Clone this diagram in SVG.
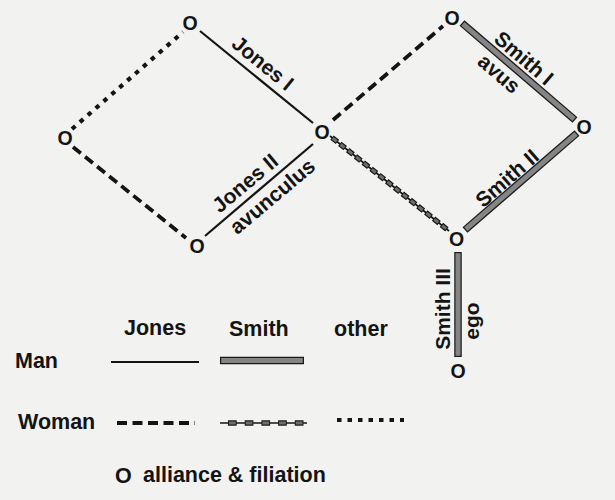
<svg xmlns="http://www.w3.org/2000/svg" width="615" height="500" viewBox="0 0 615 500">
  <style>
    text { font-family: "Liberation Sans", Arial, Helvetica, sans-serif; fill: #141414; font-weight: bold; }
    .node { font-size: 19.5px; text-anchor: middle; }
    .lbl { font-size: 21px; text-anchor: middle; }
    .leg { font-size: 21.5px; }
    .man-jones { stroke: #141414; stroke-width: 2.2; fill: none; }
    .bar-out { stroke: #1a1a1a; stroke-width: 7.5; fill: none; stroke-linecap: butt; }
    .bar-in { stroke: #858585; stroke-width: 5; fill: none; stroke-linecap: butt; }
    .w-jones { stroke: #141414; stroke-width: 3.8; fill: none; stroke-dasharray: 10 5.5; }
    .w-other { stroke: #141414; stroke-width: 4.2; fill: none; stroke-dasharray: 4.5 6; }
    .ws-thin { stroke: #141414; stroke-width: 1.6; fill: none; }
    .ws-box-out { stroke: #1a1a1a; stroke-width: 5.5; fill: none; }
    .ws-box-in { stroke: #6e6e6e; stroke-width: 3; fill: none; }
  </style>
  <rect x="0" y="0" width="615" height="500" fill="#f2f2f0"/>

  <g id="connectors">
    <line class="man-jones" x1="200" y1="31" x2="313" y2="123"/>
    <line class="man-jones" x1="205" y1="236" x2="313" y2="144"/>
    <line class="w-other" x1="72" y1="129" x2="183" y2="32"/>
    <line class="w-jones" x1="73" y1="147" x2="186" y2="238"/>
    <line class="w-jones" x1="333" y1="120" x2="443" y2="26"/>
    <line class="ws-thin" x1="330" y1="136" x2="449" y2="231"/>
    <line class="ws-box-out" x1="332" y1="137.6" x2="448" y2="230.2" stroke-dasharray="7 3"/>
    <line class="ws-box-in" x1="332" y1="137.6" x2="448" y2="230.2" stroke-dasharray="5 5" stroke-dashoffset="-1"/>
    <line class="bar-out" x1="462" y1="23" x2="575" y2="120"/>
    <line class="bar-in" x1="462.9" y1="23.8" x2="574.1" y2="119.2"/>
    <line class="bar-out" x1="465" y1="230" x2="577" y2="133"/>
    <line class="bar-in" x1="465.9" y1="229.2" x2="576.1" y2="133.8"/>
    <line class="bar-out" x1="458" y1="252" x2="458" y2="357"/>
    <line class="bar-in" x1="458" y1="253.2" x2="458" y2="355.8"/>
  </g>

  <g id="edge-labels">
    <text class="lbl" transform="translate(263,63) rotate(39.2)" dy="0.35em">Jones I</text>
    <text class="lbl" transform="translate(245,183) rotate(-40.1)" dy="0.35em">Jones II</text>
    <text class="lbl" transform="translate(273,197) rotate(-40.1)" dy="0.3em">avunculus</text>
    <text class="lbl" transform="translate(524,58) rotate(40.6)" dy="0.35em">Smith I</text>
    <text class="lbl" transform="translate(498,75) rotate(40.6)" dy="0.26em">avus</text>
    <text class="lbl" transform="translate(507,178) rotate(-40.9)" dy="0.35em">Smith II</text>
    <text class="lbl" transform="translate(450,309) rotate(-90)">Smith III</text>
    <text class="lbl" transform="translate(479,321) rotate(-90)">ego</text>
  </g>

  <g id="node-top-left"><text class="node" x="190" y="23" dy="0.36em">O</text></g>
  <g id="node-left"><text class="node" x="65" y="138" dy="0.36em">O</text></g>
  <g id="node-bottom-left"><text class="node" x="197" y="246" dy="0.36em">O</text></g>
  <g id="node-center"><text class="node" x="322" y="132" dy="0.36em">O</text></g>
  <g id="node-top-right"><text class="node" x="452" y="18" dy="0.36em">O</text></g>
  <g id="node-right"><text class="node" x="584" y="127" dy="0.36em">O</text></g>
  <g id="node-bottom-right"><text class="node" x="456.5" y="239" dy="0.36em">O</text></g>
  <g id="node-ego"><text class="node" x="458" y="371" dy="0.36em">O</text></g>

  <g id="legend">
    <text class="leg" x="124" y="335">Jones</text>
    <text class="leg" x="229" y="336">Smith</text>
    <text class="leg" x="334" y="336">other</text>
    <text class="leg" x="15" y="368">Man</text>
    <text class="leg" x="18" y="429">Woman</text>
    <line class="man-jones" x1="111" y1="362" x2="199" y2="362"/>
    <line class="bar-out" x1="220" y1="360.5" x2="304" y2="360.5"/>
    <line class="bar-in" x1="221.2" y1="360.5" x2="302.8" y2="360.5"/>
    <line class="w-jones" x1="117" y1="423" x2="195" y2="423" stroke-dasharray="8 5" stroke-width="3.2"/>
    <line class="ws-thin" x1="220" y1="423" x2="307" y2="423"/>
    <line class="ws-box-out" x1="228" y1="423" x2="304" y2="423" stroke-dasharray="8.7 8"/>
    <line class="ws-box-in" x1="228" y1="423" x2="304" y2="423" stroke-dasharray="6.7 10" stroke-dashoffset="-1"/>
    <line class="w-other" x1="337" y1="420" x2="404" y2="420" stroke-dasharray="4 8.3"/>
    <text class="leg" x="115" y="483">O</text>
    <text class="leg" x="143" y="482">alliance &amp; filiation</text>
  </g>
</svg>
